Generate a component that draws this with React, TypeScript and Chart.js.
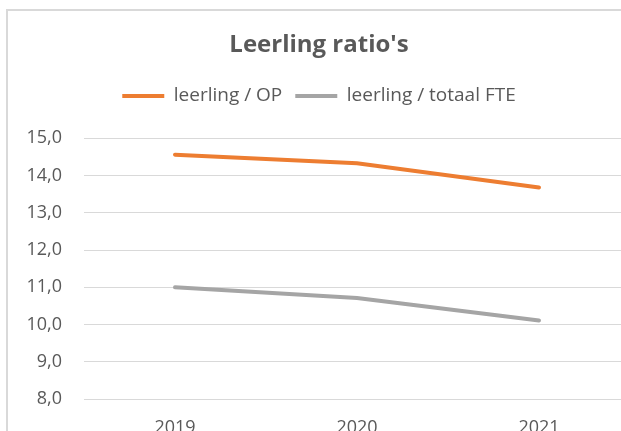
import React, { useEffect, useRef } from "react";
import { Chart, registerables } from "chart.js";

Chart.register(...registerables);

const chartTitle = "Leerling ratio's";
const categories = ["2019", "2020", "2021"];
const seriesNames = ["leerling / OP", "leerling / totaal FTE"];
const leerlingPerOP = [14.56, 14.33, 13.68];
const leerlingPerTotaalFTE = [11.0, 10.71, 10.11];
const seriesColors = ["#ED7D31", "#A5A5A5"];
const yMin = 8;
const yMax = 15;
const yStep = 1;

const FONT = "'Open Sans', 'DejaVu Sans', sans-serif";
const TEXT = "#595959";

export default function App() {
  const ref = useRef<HTMLCanvasElement>(null);

  useEffect(() => {
    const canvas = ref.current;
    if (!canvas) return;
    const chart = new Chart(canvas, {
      type: "line",
      data: {
        labels: categories,
        datasets: [
          {
            label: seriesNames[0],
            data: leerlingPerOP,
            borderColor: seriesColors[0],
            backgroundColor: seriesColors[0],
            borderWidth: 4,
            borderCapStyle: "round",
            pointRadius: 0,
            pointHoverRadius: 0,
            tension: 0,
            fill: false,
          },
          {
            label: seriesNames[1],
            data: leerlingPerTotaalFTE,
            borderColor: seriesColors[1],
            backgroundColor: seriesColors[1],
            borderWidth: 4,
            borderCapStyle: "round",
            pointRadius: 0,
            pointHoverRadius: 0,
            tension: 0,
            fill: false,
          },
        ],
      },
      options: {
        responsive: false,
        animation: false,
        events: [],
        layout: { padding: { left: 0, right: 2, top: 0, bottom: 0 } },
        plugins: {
          title: {
            display: true,
            text: chartTitle,
            color: TEXT,
            font: { family: FONT, size: 24, weight: "bold" },
            padding: { top: 19.6, bottom: 14.1 },
          },
          subtitle: {
            display: true,
            text: "",
            weight: 500,
            font: { family: FONT, size: 10, lineHeight: 1 },
            padding: { top: 0, bottom: 12.8 },
          },
          legend: {
            display: true,
            position: "top",
            labels: {
              usePointStyle: true,
              pointStyle: "line",
              pointStyleWidth: 42,
              color: TEXT,
              font: { family: FONT, size: 19 },
              padding: 13,
            },
          },
          tooltip: { enabled: false },
        },
        scales: {
          x: {
            type: "category",
            offset: true,
            grid: { display: false, drawTicks: false },
            border: { display: false },
            ticks: {
              color: TEXT,
              font: { family: FONT, size: 18 },
              padding: 18,
            },
            afterFit: (scale: any) => {
              scale.height = 72;
            },
          },
          y: {
            min: yMin,
            max: yMax,
            grid: { color: "#D9D9D9", lineWidth: 1, drawTicks: false },
            border: { display: false },
            ticks: {
              stepSize: yStep,
              color: TEXT,
              font: { family: FONT, size: 18 },
              padding: 22,
              callback: (v: any) => Number(v).toFixed(1).replace(".", ","),
            },
            afterFit: (scale: any) => {
              scale.width = 76;
            },
          },
        },
      },
    } as any);
    return () => chart.destroy();
  }, []);

  return (
    <div
      style={{
        position: "fixed",
        left: 0,
        top: 0,
        width: "100vw",
        height: "100vh",
        overflow: "hidden",
        background: "#ffffff",
      }}
    >
      <div
        style={{
          position: "absolute",
          left: 6,
          top: 9,
          width: 624,
          height: 460,
          border: "2px solid #D9D9D9",
          background: "#ffffff",
        }}
      >
        <canvas ref={ref} width={624} height={460} style={{ display: "block" }} />
      </div>
    </div>
  );
}
